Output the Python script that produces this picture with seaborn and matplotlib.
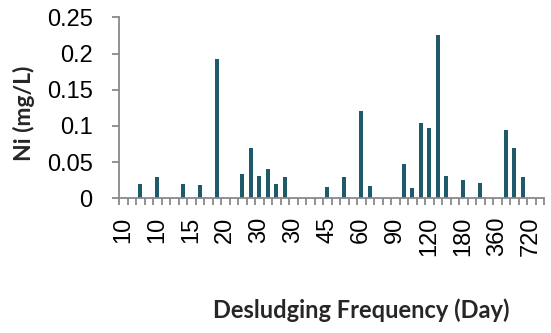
import numpy as np
import pandas as pd
import matplotlib
matplotlib.use("Agg")
import matplotlib.pyplot as plt
import seaborn as sns

# ---- data ----
n_slots = 50
bar_slots = [2, 4, 7, 9, 11, 14, 15, 16, 17, 18, 19, 24, 26, 28, 29, 33, 34, 35, 36, 37, 38, 40, 42, 45, 46, 47]
bar_values = [0.020, 0.030, 0.020, 0.018, 0.192, 0.034, 0.070, 0.031, 0.040, 0.020, 0.030, 0.016,
              0.030, 0.120, 0.017, 0.047, 0.014, 0.104, 0.097, 0.226, 0.031, 0.025, 0.021, 0.094, 0.070, 0.030]
tick_labels = ["10", "10", "15", "20", "30", "30", "45", "60", "90", "120", "180", "360", "720"]
label_every = 4

ni = np.zeros(n_slots)
ni[bar_slots] = bar_values
df = pd.DataFrame({"sample": np.arange(n_slots), "ni": ni})

sns.set_style("white")
plt.rcParams["font.family"] = ["Liberation Sans", "DejaVu Sans"]

fig = plt.figure(figsize=(5.51, 3.33), dpi=100)
ax = fig.add_axes([119/551, 1-198.3/333, (544-119)/551, (198.3-17.3)/333])

sns.barplot(data=df, x="sample", y="ni", color="#1F5A6A", width=0.45, ax=ax,
            saturation=1, errorbar=None, linewidth=0)

axis_color = "#898989"
for s in ["top", "right"]:
    ax.spines[s].set_visible(False)
for s in ["left", "bottom"]:
    ax.spines[s].set_color(axis_color)
    ax.spines[s].set_linewidth(1.3)

ax.set_xlim(-0.5, n_slots - 0.5)
ax.set_ylim(0, 0.25)
ax.set_yticks([0, 0.05, 0.1, 0.15, 0.2, 0.25])
ax.set_yticklabels(["0", "0.05", "0.1", "0.15", "0.2", "0.25"])

ax.set_xticks(np.arange(0, n_slots, label_every)[:len(tick_labels)])
ax.set_xticklabels(tick_labels, rotation=90)
ax.set_xticks(np.arange(-0.5, n_slots, 1.0), minor=True)

ax.tick_params(axis="x", which="major", length=0, pad=13, labelsize=17, colors="black")
ax.tick_params(axis="x", which="minor", length=5, width=1.3, color=axis_color, direction="out", bottom=True)
ax.tick_params(axis="y", which="major", length=5, width=1.3, color=axis_color, direction="out",
               pad=14, labelsize=17, labelcolor="black", left=True)

ax.set_xlabel("")
ax.set_ylabel("")

fig.text(24/551, 1-113/333, "Ni (mg/L)", rotation=90, ha="center", va="center",
         fontsize=16.5, fontweight="bold", family=["Lato", "DejaVu Sans"])
fig.text(361/551, 1-310/333, "Desludging Frequency (Day)", ha="center", va="center",
         fontsize=17, fontweight="bold", family=["Lato", "DejaVu Sans"])

fig.savefig("out.png", dpi=100)
